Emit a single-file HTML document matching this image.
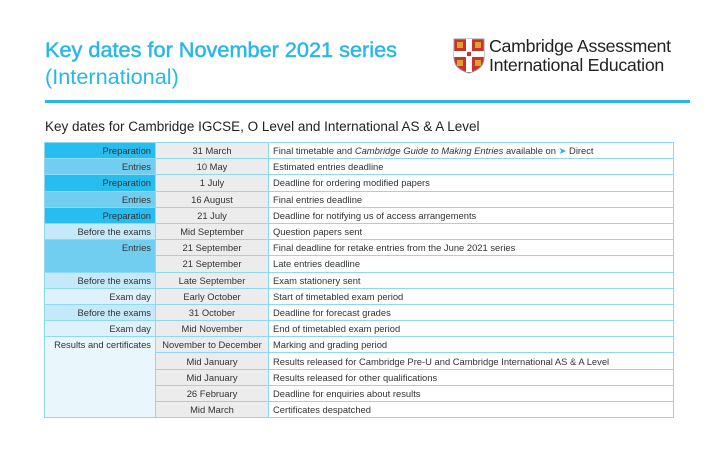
<!DOCTYPE html>
<html><head><meta charset="utf-8"><style>
body{margin:0;width:719px;height:451px;background:#fff;font-family:"Liberation Sans",sans-serif;position:relative;overflow:hidden}
.t{position:absolute;left:45px;top:36px;color:#2ab7e8;font-size:21.7px;line-height:27px}
.t b{font-weight:normal;-webkit-text-stroke:0.5px #2ab7e8}
.bar{position:absolute;left:45px;top:100px;width:645px;height:3px;background:#2ab7e8}
.h2{position:absolute;left:45px;top:119px;font-size:13.5px;color:#222}
table{position:absolute;left:44px;top:142px;border-collapse:collapse;font-size:9.4px;color:#333}
td{height:15.2px;padding:0 4px;border:1px solid #8fd8f2;white-space:nowrap}
td.a{width:102px;text-align:right;color:#333}
td.b{width:104px;text-align:center;background:#ececec}
td.c{width:396px;text-align:left}
.p{background:#27bdee}.e{background:#72cef1}.x{background:#c6e9f9}.d{background:#dff2fb}.r{background:#e9f7fd}
.logo{position:absolute;left:453px;top:38px}
.lt{position:absolute;left:489px;top:37px;font-size:17.8px;line-height:19px;color:#222;letter-spacing:-0.3px}
</style></head><body>
<div class="t"><b>Key dates for November 2021 series</b><br>(International)</div>
<svg class="logo" width="32" height="36" viewBox="0 0 32 36"><path d="M1 1H31V20Q31 31 16 35Q1 31 1 20Z" fill="#c8332b" stroke="#999" stroke-width="1"/><rect x="13" y="1" width="6" height="33" fill="#fff"/><rect x="1" y="13" width="30" height="6" fill="#fff"/><rect x="4" y="4" width="6" height="6" fill="#e0a030"/><rect x="22" y="4" width="6" height="6" fill="#e0a030"/><rect x="4" y="22" width="6" height="6" fill="#e0a030"/><rect x="22" y="22" width="6" height="6" fill="#e0a030"/><rect x="14" y="14" width="4" height="4" fill="#c8332b"/></svg>
<div class="lt">Cambridge Assessment<br>International Education</div>
<div class="bar"></div>
<div class="h2">Key dates for Cambridge IGCSE, O Level and International AS &amp; A Level</div>
<table>
<tr><td class="a p">Preparation</td><td class="b">31 March</td><td class="c">Final timetable and <i>Cambridge Guide to Making Entries</i> available on <span style="color:#2ab7e8">➤</span> Direct</td></tr>
<tr><td class="a e">Entries</td><td class="b">10 May</td><td class="c">Estimated entries deadline</td></tr>
<tr><td class="a p">Preparation</td><td class="b">1 July</td><td class="c">Deadline for ordering modified papers</td></tr>
<tr><td class="a e">Entries</td><td class="b">16 August</td><td class="c">Final entries deadline</td></tr>
<tr><td class="a p">Preparation</td><td class="b">21 July</td><td class="c">Deadline for notifying us of access arrangements</td></tr>
<tr><td class="a x">Before the exams</td><td class="b">Mid September</td><td class="c">Question papers sent</td></tr>
<tr><td class="a e" rowspan="2" style="vertical-align:top;padding-top:2px">Entries</td><td class="b">21 September</td><td class="c">Final deadline for retake entries from the June 2021 series</td></tr>
<tr><td class="b">21 September</td><td class="c">Late entries deadline</td></tr>
<tr><td class="a x">Before the exams</td><td class="b">Late September</td><td class="c">Exam stationery sent</td></tr>
<tr><td class="a d">Exam day</td><td class="b">Early October</td><td class="c">Start of timetabled exam period</td></tr>
<tr><td class="a x">Before the exams</td><td class="b">31 October</td><td class="c">Deadline for forecast grades</td></tr>
<tr><td class="a d">Exam day</td><td class="b">Mid November</td><td class="c">End of timetabled exam period</td></tr>
<tr><td class="a r" rowspan="5" style="vertical-align:top;padding-top:2px">Results and certificates</td><td class="b">November to December</td><td class="c">Marking and grading period</td></tr>
<tr><td class="b">Mid January</td><td class="c">Results released for Cambridge Pre-U and Cambridge International AS &amp; A Level</td></tr>
<tr><td class="b">Mid January</td><td class="c">Results released for other qualifications</td></tr>
<tr><td class="b">26 February</td><td class="c">Deadline for enquiries about results</td></tr>
<tr><td class="b">Mid March</td><td class="c">Certificates despatched</td></tr>
</table>
</body></html>
